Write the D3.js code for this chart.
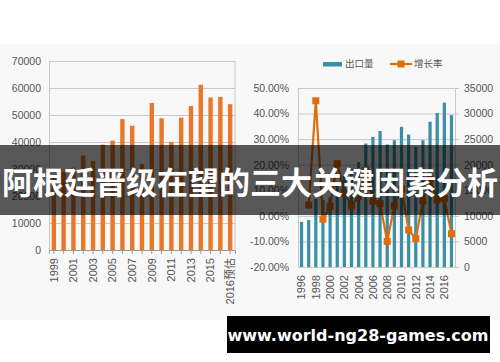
<!DOCTYPE html>
<html>
<head>
<meta charset="utf-8">
<script src="https://cdn.jsdelivr.net/npm/d3@7"></script>
<style>
  body { margin: 0; background: #fff; }
  svg { display: block; }
  text { font-family: "Liberation Sans", "Noto Sans CJK SC", sans-serif; }
</style>
</head>
<body>
<div id="chart-area"></div>
<script>
let width = 500,
    height = 362;

// left chart data
let leftYears = ["1999","2000","2001","2002","2003","2004","2005","2006","2007","2008",
                 "2009","2010","2011","2012","2013","2014","2015","2016","2016预估"];
let leftValues = [27000, 29000, 30500, 35000, 33000, 39000, 40500, 48500, 46000, 31800,
                  54500, 48800, 40000, 49000, 53300, 61200, 56500, 56700, 54000];
let leftTicks = [0, 10000, 20000, 30000, 40000, 50000, 60000, 70000];

// right chart data
let rightYears = ["1996","1997","1998","1999","2000","2001","2002","2003","2004","2005","2006",
                  "2007","2008","2009","2010","2011","2012","2013","2014","2015","2016","2017"];
let exportVol = [8800, 9200, 13300, 13100, 13600, 16400, 17900, 19100, 20500, 24150, 25450,
                 26600, 23950, 24800, 27400, 25900, 23500, 24800, 28400, 30100, 32150, 29700];
let growth = [null, 4.2, 45.0, -1.3, 3.7, 20.4, 9.0, 4.0, 7.5, 17.8, 5.8,
              4.8, -10.0, 4.0, 10.5, -5.5, -8.9, 5.8, 14.3, 6.2, 6.8, -7.0];
let pctTicks = [-20, -10, 0, 10, 20, 30, 40, 50];
let volTicks = [0, 5000, 10000, 15000, 20000, 25000, 30000, 35000];
let legendNames = ["出口量", "增长率"];

let title = "阿根廷晋级在望的三大关键因素分析";
let site = "www.world-ng28-games.com";

let orange = "#e8782a",
    teal = "#3b8fa5",
    lineOrange = "#e36c0a",
    grid = "#c8c8c8",
    labelColor = "#555";

let svg = d3.select("#chart-area").append("svg")
    .attr("width", width)
    .attr("height", height);

// page background
svg.append("rect").attr("x", 0).attr("y", 44).attr("width", width).attr("height", 276)
  .attr("fill", "#f8f8f8");

// ---------- LEFT CHART ----------
let lx = d3.scaleBand().domain(leftYears).range([49, 235]).paddingInner(0.55).paddingOuter(0.27);
let ly = d3.scaleLinear().domain([0, 70000]).range([250, 61]);

let left = svg.append("g");

left.append("g")
  .attr("transform", "translate(49,0)")
  .call(d3.axisLeft(ly).tickValues(leftTicks).tickSize(-186).tickPadding(8).tickFormat(d3.format("d")))
  .call(g => g.select(".domain").attr("stroke", grid))
  .call(g => g.selectAll(".tick line").attr("stroke", grid))
  .call(g => g.selectAll(".tick text").attr("fill", labelColor).attr("font-size", 10.5));

left.append("line").attr("x1", 235).attr("x2", 235).attr("y1", 61).attr("y2", 250)
  .attr("stroke", grid);

left.selectAll(".lbar")
  .data(leftValues)
  .enter().append("rect")
  .attr("class", "lbar")
  .attr("x", (d, i) => lx(leftYears[i]))
  .attr("y", d => ly(d))
  .attr("width", lx.bandwidth())
  .attr("height", d => ly(0) - ly(d))
  .attr("fill", orange);

left.append("g")
  .attr("transform", "translate(0,250)")
  .call(d3.axisBottom(lx).tickSize(4).tickFormat((d, i) => i % 2 === 0 ? d : ""))
  .call(g => g.select(".domain").attr("stroke", "#999"))
  .call(g => g.selectAll(".tick line").attr("stroke", "#999"))
  .call(g => g.selectAll(".tick text")
    .attr("fill", labelColor).attr("font-size", 11)
    .attr("transform", "rotate(-90)")
    .attr("text-anchor", "end")
    .attr("x", -8).attr("y", 0).attr("dy", "0.35em"));

// ---------- RIGHT CHART ----------
let rx = d3.scaleBand().domain(rightYears).range([298, 455]).paddingInner(0.55).paddingOuter(0.27);
let ryPct = d3.scaleLinear().domain([-20, 50]).range([267, 88]);
let ryVol = d3.scaleLinear().domain([0, 35000]).range([267, 88]);

let right = svg.append("g");

right.append("g")
  .attr("transform", "translate(298,0)")
  .call(d3.axisLeft(ryPct).tickValues(pctTicks).tickSize(-157).tickPadding(9)
    .tickFormat(d => d.toFixed(2) + "%"))
  .call(g => g.select(".domain").attr("stroke", grid))
  .call(g => g.selectAll(".tick line").attr("stroke", grid))
  .call(g => g.selectAll(".tick text").attr("fill", labelColor).attr("font-size", 10.5));

right.append("g")
  .attr("transform", "translate(455,0)")
  .call(d3.axisRight(ryVol).tickValues(volTicks).tickSize(4).tickPadding(5).tickFormat(d3.format("d")))
  .call(g => g.select(".domain").attr("stroke", grid))
  .call(g => g.selectAll(".tick line").attr("stroke", grid))
  .call(g => g.selectAll(".tick text").attr("fill", labelColor).attr("font-size", 10.5));

right.selectAll(".rbar")
  .data(exportVol)
  .enter().append("rect")
  .attr("class", "rbar")
  .attr("x", (d, i) => rx(rightYears[i]))
  .attr("y", d => ryVol(d))
  .attr("width", rx.bandwidth())
  .attr("height", d => ryVol(0) - ryVol(d))
  .attr("fill", teal);

right.append("g")
  .attr("transform", "translate(0,267)")
  .call(d3.axisBottom(rx).tickSize(0).tickFormat((d, i) => i % 2 === 0 ? d : ""))
  .call(g => g.select(".domain").attr("stroke", grid))
  .call(g => g.selectAll(".tick text")
    .attr("fill", labelColor).attr("font-size", 11)
    .attr("transform", "rotate(-90)")
    .attr("text-anchor", "end")
    .attr("x", -8).attr("y", 0).attr("dy", "0.35em"));

let growthPts = growth.map((d, i) => ({ year: rightYears[i], v: d })).filter(d => d.v !== null);
let line = d3.line()
  .x(d => rx(d.year) + rx.bandwidth() / 2)
  .y(d => ryPct(d.v));

right.append("path")
  .datum(growthPts)
  .attr("d", line)
  .attr("fill", "none")
  .attr("stroke", lineOrange)
  .attr("stroke-width", 2.2);

right.selectAll(".marker")
  .data(growthPts)
  .enter().append("rect")
  .attr("class", "marker")
  .attr("x", d => rx(d.year) + rx.bandwidth() / 2 - 3.5)
  .attr("y", d => ryPct(d.v) - 3.5)
  .attr("width", 7)
  .attr("height", 7)
  .attr("fill", lineOrange);

// legend
let legend = right.append("g").attr("transform", "translate(0,64)");
legend.append("rect").attr("x", 323).attr("y", -2).attr("width", 19).attr("height", 4.5).attr("fill", teal);
legend.append("line").attr("x1", 390).attr("x2", 412).attr("y1", 0).attr("y2", 0)
  .attr("stroke", lineOrange).attr("stroke-width", 2.2);
legend.append("rect").attr("x", 397.5).attr("y", -3.5).attr("width", 7).attr("height", 7).attr("fill", lineOrange);
legend.selectAll(".ltext")
  .data(legendNames)
  .enter().append("text")
  .attr("x", (d, i) => i === 0 ? 345 : 414)
  .attr("y", 0)
  .attr("dy", "0.35em")
  .attr("font-size", 9.5)
  .attr("fill", labelColor)
  .style("font-family", "'Noto Sans CJK SC', sans-serif")
  .text(d => d);

// ---------- TITLE BAND ----------
svg.append("rect").attr("x", 0).attr("y", 145).attr("width", width).attr("height", 70)
  .attr("fill", "rgba(0,0,0,0.65)");
svg.append("text")
  .attr("x", 250).attr("y", 183)
  .attr("dy", "0.35em")
  .attr("text-anchor", "middle")
  .attr("font-size", 31)
  .attr("font-weight", "bold")
  .attr("fill", "#fff")
  .attr("textLength", 496)
  .attr("lengthAdjust", "spacingAndGlyphs")
  .style("font-family", "'Noto Sans CJK SC', sans-serif")
  .text(title);

// ---------- WATERMARK ----------
svg.append("rect").attr("x", 227).attr("y", 316).attr("width", 263).attr("height", 37).attr("fill", "#000");
svg.append("text")
  .attr("x", 358).attr("y", 335)
  .attr("dy", "0.35em")
  .attr("text-anchor", "middle")
  .attr("font-size", 16)
  .attr("font-weight", "bold")
  .attr("fill", "#fff")
  .style("font-family", "'DejaVu Sans', sans-serif")
  .text(site);
</script>
</body>
</html>
